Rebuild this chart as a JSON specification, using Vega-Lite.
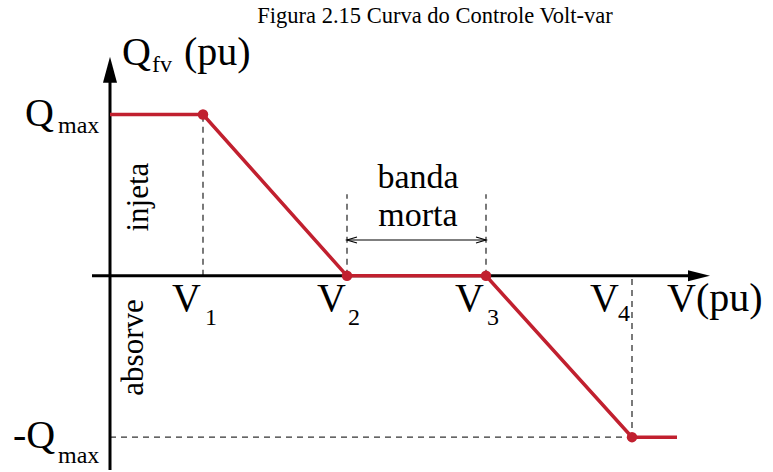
{
  "$schema": "https://vega.github.io/schema/vega-lite/v6.json",
  "width": 773,
  "height": 472,
  "autosize": {"type": "fit", "contains": "padding"},
  "padding": 0,
  "background": "white",
  "config": {"view": {"stroke": null}},
  "datasets": {
    "curve": [{"v": 0, "q": 1}, {"v": 0.93, "q": 1}, {"v": 2.37, "q": 0}, {"v": 3.76, "q": 0}, {"v": 5.22, "q": -1}, {"v": 5.67, "q": -1}],
    "bpts": [{"v": 0.93, "q": 1}, {"v": 2.37, "q": 0}, {"v": 3.76, "q": 0}, {"v": 5.22, "q": -1}],
    "dashes": [
      {"v": 0.93, "q": 0, "v2": 0.93, "q2": 1},
      {"v": 2.37, "q": 0, "v2": 2.37, "q2": 0.506},
      {"v": 3.76, "q": 0, "v2": 3.76, "q2": 0.506},
      {"v": 5.22, "q": -0.02, "v2": 5.22, "q2": -1},
      {"v": 0, "q": -1, "v2": 5.22, "q2": -1}
    ],
    "axes": [{"v": -0.18, "q": 0, "v2": 5.85, "q2": 0}, {"v": 0, "q": -1.2037, "v2": 0, "q2": 1.25}],
    "vhead": [{"v": 0, "q": 1.278}],
    "hhead": [{"v": 5.89, "q": 0}],
    "band": [{"v": 2.37, "q": 0.222, "v2": 3.76, "q2": 0.222}],
    "bandL": [{"v": 2.42, "q": 0.222}],
    "bandR": [{"v": 3.71, "q": 0.222}],
    "mainText": [
      {"t": "Q", "v": -0.85, "q": 0.926},
      {"t": "-Q", "v": -0.97, "q": -1.068},
      {"t": "Q", "v": 0.12, "q": 1.309},
      {"t": "(pu)", "v": 0.74, "q": 1.309},
      {"t": "V", "v": 0.62, "q": -0.216},
      {"t": "V", "v": 2.07, "q": -0.216},
      {"t": "V", "v": 3.45, "q": -0.216},
      {"t": "V", "v": 4.80, "q": -0.216},
      {"t": "V(pu)", "v": 5.57, "q": -0.216}
    ],
    "subText": [
      {"t": "max", "v": -0.52, "q": 0.883},
      {"t": "max", "v": -0.52, "q": -1.160},
      {"t": "fv", "v": 0.42, "q": 1.265},
      {"t": "1", "v": 0.95, "q": -0.302},
      {"t": "2", "v": 2.38, "q": -0.302},
      {"t": "3", "v": 3.77, "q": -0.302},
      {"t": "4", "v": 5.08, "q": -0.278}
    ],
    "bandText": [{"t": "banda", "v": 3.08, "q": 0.543}, {"t": "morta", "v": 3.08, "q": 0.309}],
    "rotText": [{"t": "injeta", "v": 0.38, "q": 0.488}, {"t": "absorve", "v": 0.33, "q": -0.444}],
    "title": [{"t": "Figura 2.15 Curva do Controle Volt-var", "v": 3.25, "q": 1.568}]
  },
  "encoding": {
    "x": {"field": "v", "type": "quantitative", "scale": {"domain": [-1.10, 6.63], "nice": false, "zero": false}, "axis": null},
    "y": {"field": "q", "type": "quantitative", "scale": {"domain": [-1.2037, 1.7099], "nice": false, "zero": false}, "axis": null}
  },
  "layer": [
    {"data": {"name": "dashes"}, "mark": {"type": "rule", "color": "#333333", "strokeWidth": 1.3, "strokeDash": [6, 5]},
     "encoding": {"x2": {"field": "v2"}, "y2": {"field": "q2"}}},
    {"data": {"name": "axes"}, "mark": {"type": "rule", "color": "black", "strokeWidth": 3},
     "encoding": {"x2": {"field": "v2"}, "y2": {"field": "q2"}}},
    {"data": {"name": "vhead"}, "mark": {"type": "point", "filled": true, "color": "black", "opacity": 1, "size": 676, "shape": "M0,-1L0.54,1L-0.54,1Z"}},
    {"data": {"name": "hhead"}, "mark": {"type": "point", "filled": true, "color": "black", "opacity": 1, "size": 484, "shape": "M1,0L-1,-0.5L-1,0.5Z"}},
    {"data": {"name": "band"}, "mark": {"type": "rule", "color": "black", "strokeWidth": 1.2},
     "encoding": {"x2": {"field": "v2"}, "y2": {"field": "q2"}}},
    {"data": {"name": "bandL"}, "mark": {"type": "point", "filled": false, "color": "black", "opacity": 1, "strokeWidth": 1.2, "size": 100, "shape": "M1,-0.6L-1,0L1,0.6"}},
    {"data": {"name": "bandR"}, "mark": {"type": "point", "filled": false, "color": "black", "opacity": 1, "strokeWidth": 1.2, "size": 100, "shape": "M-1,-0.6L1,0L-1,0.6"}},
    {"data": {"name": "curve"}, "mark": {"type": "line", "color": "#c1202f", "strokeWidth": 3.5}},
    {"data": {"name": "bpts"}, "mark": {"type": "circle", "color": "#c1202f", "opacity": 1, "size": 110}},
    {"data": {"name": "mainText"}, "mark": {"type": "text", "font": "Liberation Serif", "color": "black", "fontSize": 40, "align": "left", "baseline": "alphabetic"},
     "encoding": {"text": {"field": "t"}}},
    {"data": {"name": "subText"}, "mark": {"type": "text", "font": "Liberation Serif", "color": "black", "fontSize": 24, "align": "left", "baseline": "alphabetic"},
     "encoding": {"text": {"field": "t"}}},
    {"data": {"name": "bandText"}, "mark": {"type": "text", "font": "Liberation Serif", "color": "black", "fontSize": 34, "align": "center", "baseline": "alphabetic"},
     "encoding": {"text": {"field": "t"}}},
    {"data": {"name": "rotText"}, "mark": {"type": "text", "font": "Liberation Serif", "color": "black", "fontSize": 31, "align": "center", "baseline": "alphabetic", "angle": 270},
     "encoding": {"text": {"field": "t"}}},
    {"data": {"name": "title"}, "mark": {"type": "text", "font": "Liberation Serif", "color": "black", "fontSize": 22.5, "align": "center", "baseline": "alphabetic"},
     "encoding": {"text": {"field": "t"}}}
  ]
}
